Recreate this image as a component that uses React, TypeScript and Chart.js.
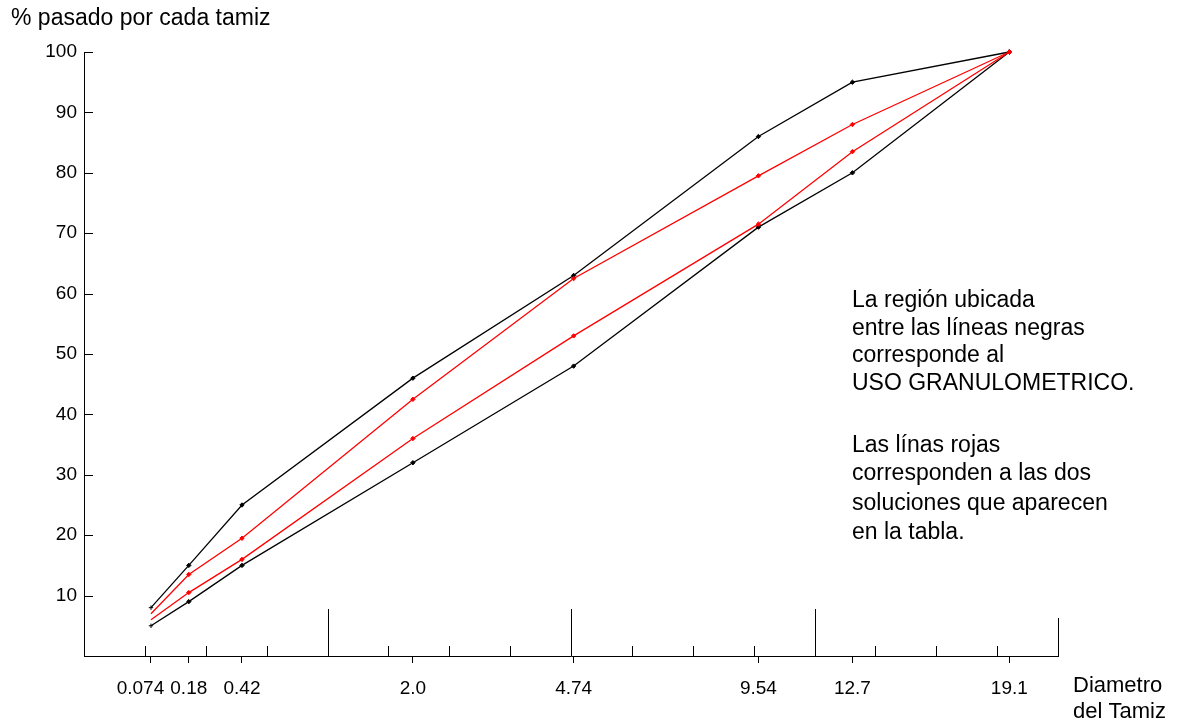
import React, { useEffect, useRef } from 'react';
import { Chart, registerables, Scale } from 'chart.js';

// ---- Data ----
const sieveSizes = [0.074, 0.18, 0.42, 2.0, 4.74, 9.54, 12.7, 19.1];
const sieveLabels = ['0.074', '0.18', '0.42', '2.0', '4.74', '9.54', '12.7', '19.1'];
const upperLimit = [8, 15, 25, 46, 63, 86, 95, 100];
const solutionA = [7, 13.5, 19.5, 42.5, 62.5, 79.5, 88, 100];
const solutionB = [6, 10.5, 16, 36, 53, 71.5, 83.5, 100];
const lowerLimit = [5, 9, 15, 32, 48, 71, 80, 100];
const yTickValues = [10, 20, 30, 40, 50, 60, 70, 80, 90, 100];

const titleText = '% pasado por cada tamiz';
const xTitleLines = ['Diametro', 'del Tamiz'];
const noteLines = [
  'La región ubicada',
  'entre las líneas negras',
  'corresponde al',
  'USO GRANULOMETRICO.',
  '',
  'Las línas rojas',
  'corresponden a las dos',
  'soluciones que aparecen',
  'en la tabla.',
];

const POWER = 0.45; // 0.45-power gradation chart
const FONT = '"Liberation Sans", Arial, Helvetica, sans-serif';

class PowerScale extends Scale {
  static id = 'power';
  static defaults = {};
  determineDataLimits() {
    const { min, max } = this.getMinMax(false);
    this.min = min;
    this.max = max;
  }
  buildTicks() {
    return sieveSizes.map((v) => ({ value: v }));
  }
  getLabelForValue(v) {
    return String(v);
  }
  configure() {
    super.configure();
    this._tmin = Math.pow(this.min, POWER);
    this._tmax = Math.pow(this.max, POWER);
  }
  getPixelForValue(v) {
    if (v === null || v === undefined || isNaN(v)) return NaN;
    const t = Math.pow(v, POWER);
    return this.getPixelForDecimal((t - this._tmin) / (this._tmax - this._tmin));
  }
  getValueForPixel(p) {
    const d = this.getDecimalForPixel(p);
    return Math.pow(this._tmin + d * (this._tmax - this._tmin), 1 / POWER);
  }
}

Chart.register(...registerables, PowerScale);

const toPoints = (vals) => sieveSizes.map((x, i) => ({ x, y: vals[i] }));

const decorPlugin = {
  id: 'decor',
  afterDraw(chart) {
    const { ctx, chartArea: ca, scales } = chart;
    const xs = scales.x;
    const ys = scales.y;
    ctx.save();
    ctx.strokeStyle = '#000';
    ctx.lineWidth = 1;
    const line = (x1, y1, x2, y2) => {
      ctx.beginPath();
      ctx.moveTo(x1, y1);
      ctx.lineTo(x2, y2);
      ctx.stroke();
    };
    // inward y tick marks
    yTickValues.forEach((v) => {
      const py = Math.round(ys.getPixelForValue(v)) + 0.5;
      line(ca.left, py, ca.left + 9, py);
    });
    // upward division marks on x axis
    for (let i = 1; i <= 16; i++) {
      const px = Math.round(xs.getPixelForDecimal(i / 16)) + 0.5;
      const len = i === 16 ? 38 : i % 4 === 0 ? 47 : 10;
      line(px, ca.bottom, px, ca.bottom - len);
    }
    ctx.fillStyle = '#000';
    ctx.textBaseline = 'alphabetic';
    ctx.textAlign = 'left';
    ctx.font = `23px ${FONT}`;
    ctx.fillText(titleText, 11, 25);
    const noteBaselines = [307, 335, 362, 390, 0, 452, 480, 510, 539];
    noteLines.forEach((t, i) => {
      if (t) ctx.fillText(t, 852, noteBaselines[i]);
    });
    ctx.font = `22px ${FONT}`;
    ctx.fillText(xTitleLines[0], 1073, 692);
    ctx.fillText(xTitleLines[1], 1073, 718);
    ctx.restore();
  },
};

export default function App() {
  const canvasRef = useRef(null);

  useEffect(() => {
    const black = '#000000';
    const red = '#ff0000';
    const mk = (label, vals, color, firstStyle) => ({
      label,
      data: toPoints(vals),
      borderColor: color,
      backgroundColor: color,
      borderWidth: 1.3,
      tension: 0,
      clip: false,
      pointRadius: (c) => (c.dataIndex === 0 && !firstStyle ? 0 : 2.2),
      pointStyle: (c) => (c.dataIndex === 0 && firstStyle ? 'cross' : 'rectRot'),
      pointBackgroundColor: color,
      pointBorderColor: color,
      pointBorderWidth: 1,
    });
    const chart = new Chart(canvasRef.current, {
      type: 'line',
      data: {
        datasets: [
          mk('Solución 1', solutionA, red, false),
          mk('Solución 2', solutionB, red, false),
          mk('Límite superior', upperLimit, black, true),
          mk('Límite inferior', lowerLimit, black, true),
        ],
      },
      options: {
        responsive: false,
        animation: false,
        devicePixelRatio: 1,
        events: [],
        layout: { padding: { top: 52, right: 123, left: 0, bottom: 0 } },
        plugins: { legend: { display: false }, tooltip: { enabled: false }, title: { display: false } },
        scales: {
          x: {
            type: 'power',
            position: 'bottom',
            min: 0.00077,
            max: 21.38,
            afterFit: (s) => {
              s.height = 69;
            },
            grid: {
              display: true,
              drawOnChartArea: false,
              drawTicks: true,
              tickLength: 7,
              color: '#000',
              lineWidth: 1,
            },
            border: { display: true, color: '#000', width: 1 },
            ticks: {
              autoSkip: false,
              maxRotation: 0,
              minRotation: 0,
              padding: 14,
              color: '#000',
              font: { family: FONT, size: 19 },
              // first label sits a little left of its tick, as in the original
              callback: (v, i) => (i === 0 ? sieveLabels[i] + '    ' : sieveLabels[i]),
            },
          },
          y: {
            type: 'linear',
            position: 'left',
            min: 0,
            max: 100,
            afterFit: (s) => {
              s.width = 84;
            },
            afterBuildTicks: (s) => {
              s.ticks = yTickValues.map((v) => ({ value: v }));
            },
            grid: { display: false, drawTicks: false, tickLength: 0 },
            border: { display: true, color: '#000', width: 1 },
            ticks: {
              padding: 7,
              color: '#000',
              font: { family: FONT, size: 19 },
            },
          },
        },
      },
      plugins: [decorPlugin],
    });
    return () => chart.destroy();
  }, []);

  return (
    <div style={{ position: 'fixed', left: 0, top: 0, width: 1181, height: 725, background: '#fff' }}>
      <canvas ref={canvasRef} width={1181} height={725} style={{ display: 'block' }} />
    </div>
  );
}
